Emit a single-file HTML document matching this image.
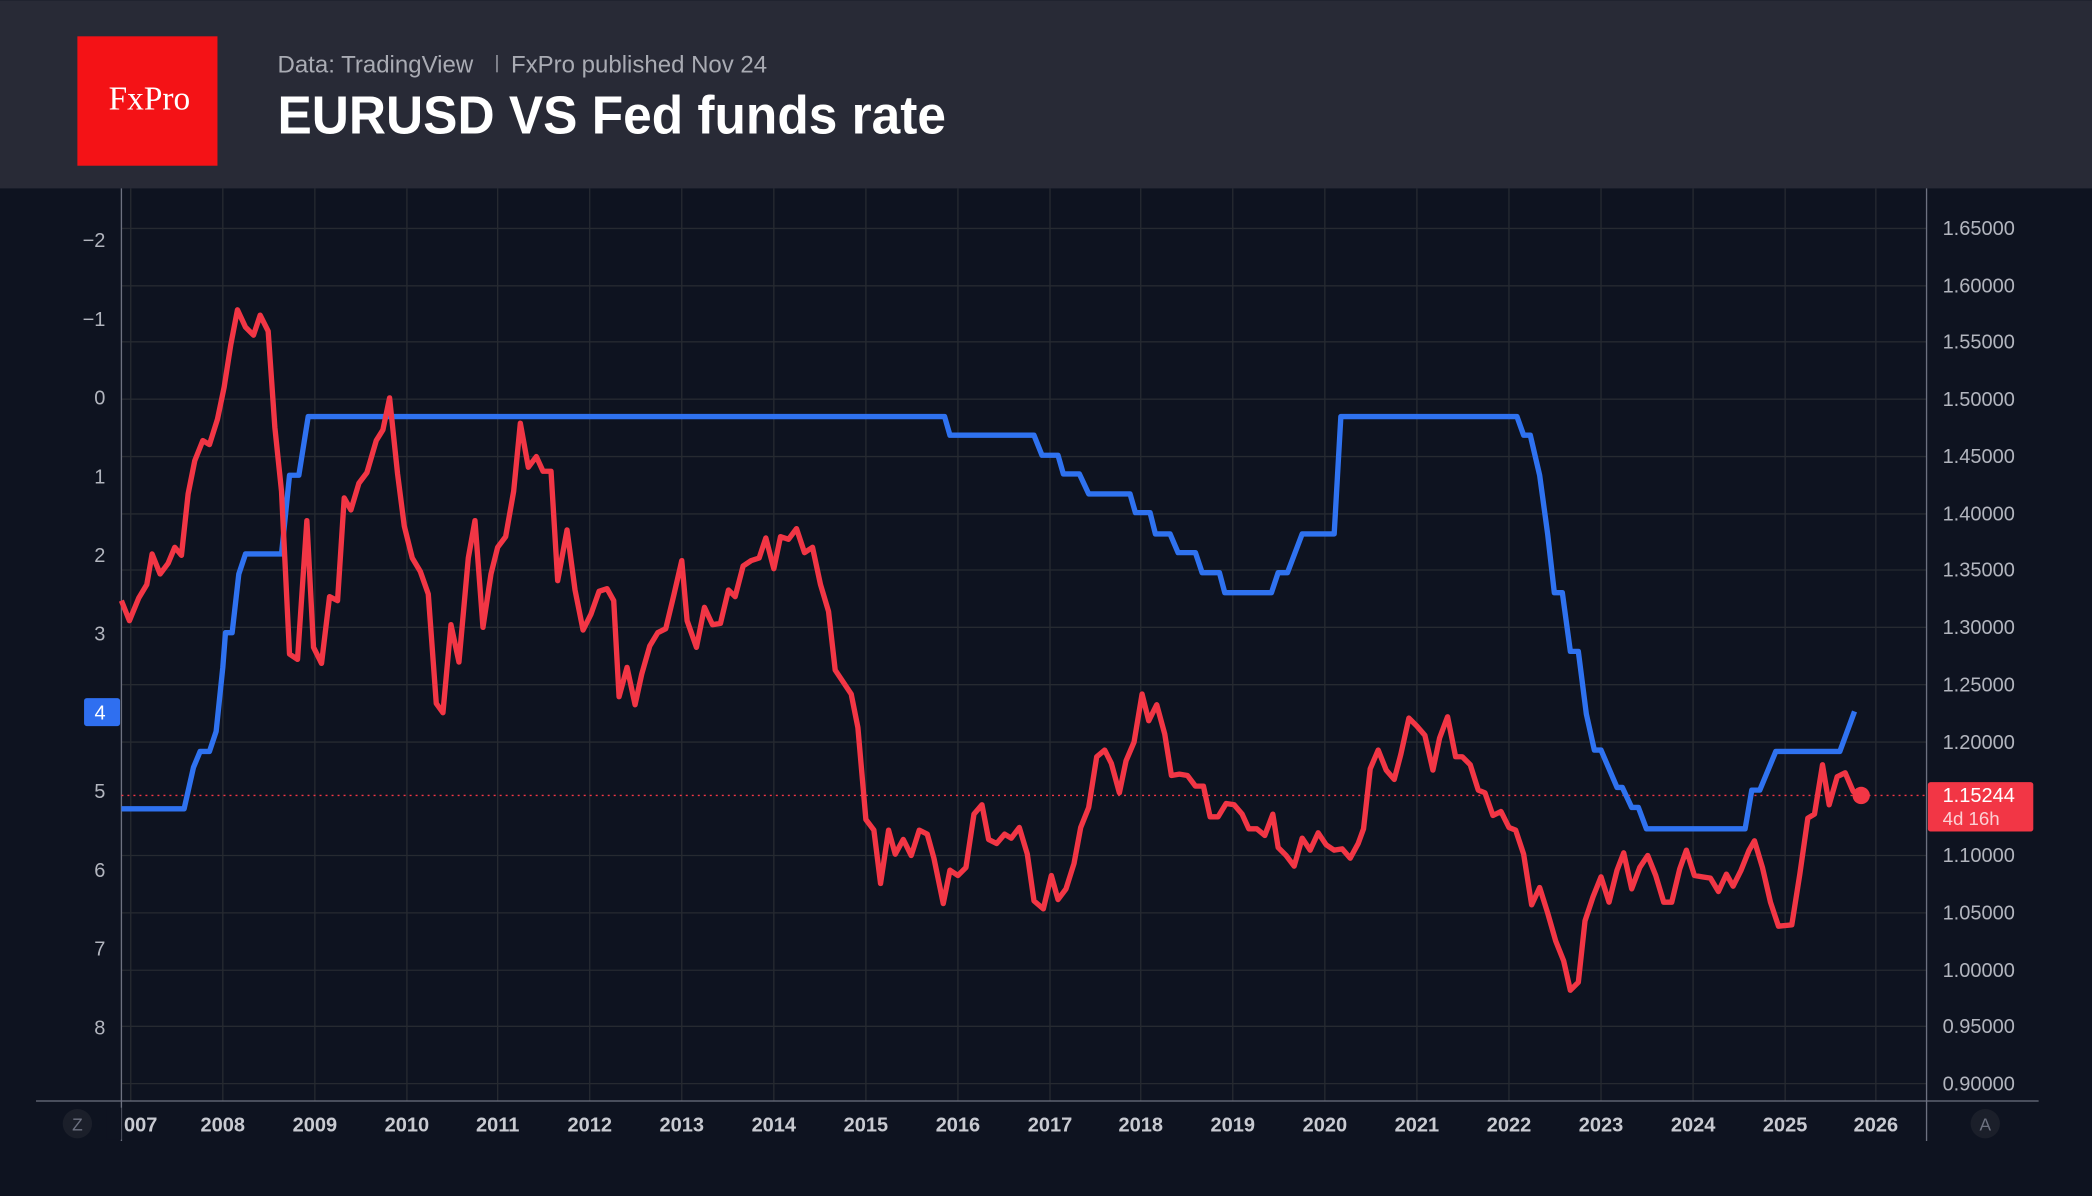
<!DOCTYPE html>
<html><head><meta charset="utf-8"><style>
html,body{margin:0;padding:0;background:#0e1320;}
svg{display:block;}
</style></head><body>
<svg width="2092" height="1196" viewBox="0 0 1568 896" xmlns="http://www.w3.org/2000/svg" font-family="Liberation Sans, sans-serif">
<rect width="1568" height="896" fill="#0e1320"/>
<rect width="1568" height="141" fill="#282a36"/>
<rect x="58" y="27" width="105" height="97" fill="#f41216"/>
<text x="112" y="82" fill="#fff" font-family="Liberation Serif, serif" font-size="25" text-anchor="middle">FxPro</text>
<text x="208" y="54" fill="#a9abb3" font-size="18">Data: TradingView</text>
<rect x="372" y="41" width="1" height="13" fill="#a9abb3"/>
<text x="383" y="54" fill="#a9abb3" font-size="18">FxPro published Nov 24</text>
<text x="208" y="100" fill="#fff" font-size="40" font-weight="bold" textLength="501" lengthAdjust="spacingAndGlyphs">EURUSD VS Fed funds rate</text>
<g stroke="#262a31" stroke-width="1">
<line x1="91" y1="171" x2="1444" y2="171"/><line x1="91" y1="214" x2="1444" y2="214"/><line x1="91" y1="256" x2="1444" y2="256"/><line x1="91" y1="299" x2="1444" y2="299"/><line x1="91" y1="342" x2="1444" y2="342"/><line x1="91" y1="385" x2="1444" y2="385"/><line x1="91" y1="427" x2="1444" y2="427"/><line x1="91" y1="470" x2="1444" y2="470"/><line x1="91" y1="513" x2="1444" y2="513"/><line x1="91" y1="556" x2="1444" y2="556"/><line x1="91" y1="641" x2="1444" y2="641"/><line x1="91" y1="684" x2="1444" y2="684"/><line x1="91" y1="727" x2="1444" y2="727"/><line x1="91" y1="769" x2="1444" y2="769"/><line x1="91" y1="812" x2="1444" y2="812"/>
</g>
<g stroke="#262a31" stroke-width="1">
<line x1="98" y1="141" x2="98" y2="825"/><line x1="167" y1="141" x2="167" y2="825"/><line x1="236" y1="141" x2="236" y2="825"/><line x1="305" y1="141" x2="305" y2="825"/><line x1="373" y1="141" x2="373" y2="825"/><line x1="442" y1="141" x2="442" y2="825"/><line x1="511" y1="141" x2="511" y2="825"/><line x1="580" y1="141" x2="580" y2="825"/><line x1="649" y1="141" x2="649" y2="825"/><line x1="718" y1="141" x2="718" y2="825"/><line x1="787" y1="141" x2="787" y2="825"/><line x1="855" y1="141" x2="855" y2="825"/><line x1="924" y1="141" x2="924" y2="825"/><line x1="993" y1="141" x2="993" y2="825"/><line x1="1062" y1="141" x2="1062" y2="825"/><line x1="1131" y1="141" x2="1131" y2="825"/><line x1="1200" y1="141" x2="1200" y2="825"/><line x1="1269" y1="141" x2="1269" y2="825"/><line x1="1338" y1="141" x2="1338" y2="825"/><line x1="1406" y1="141" x2="1406" y2="825"/>
</g>
<line x1="91" y1="141" x2="91" y2="855" stroke="#6d7180" stroke-width="1"/>
<line x1="1444" y1="141" x2="1444" y2="855" stroke="#6d7180" stroke-width="1"/>
<line x1="27" y1="825" x2="1528" y2="825" stroke="#6d7180" stroke-width="1"/>
<g fill="#b2b5be" font-size="15" text-anchor="end">
<text x="79" y="185">−2</text><text x="79" y="244">−1</text><text x="79" y="303">0</text><text x="79" y="362">1</text><text x="79" y="421">2</text><text x="79" y="480">3</text><text x="79" y="598">5</text><text x="79" y="657">6</text><text x="79" y="716">7</text><text x="79" y="775">8</text>
</g>
<rect x="63" y="523" width="27" height="21" rx="2" fill="#2f6ff0"/>
<text x="75" y="539" fill="#fff" font-size="15" text-anchor="middle">4</text>
<g fill="#b2b5be" font-size="15" text-anchor="start">
<text x="1456" y="176">1.65000</text><text x="1456" y="219">1.60000</text><text x="1456" y="261">1.55000</text><text x="1456" y="304">1.50000</text><text x="1456" y="347">1.45000</text><text x="1456" y="390">1.40000</text><text x="1456" y="432">1.35000</text><text x="1456" y="475">1.30000</text><text x="1456" y="518">1.25000</text><text x="1456" y="561">1.20000</text><text x="1456" y="646">1.10000</text><text x="1456" y="689">1.05000</text><text x="1456" y="732">1.00000</text><text x="1456" y="774">0.95000</text><text x="1456" y="817">0.90000</text>
</g>
<g fill="#c8cad1" font-size="15" font-weight="bold" text-anchor="middle">
<text x="167" y="848">2008</text><text x="236" y="848">2009</text><text x="305" y="848">2010</text><text x="373" y="848">2011</text><text x="442" y="848">2012</text><text x="511" y="848">2013</text><text x="580" y="848">2014</text><text x="649" y="848">2015</text><text x="718" y="848">2016</text><text x="787" y="848">2017</text><text x="855" y="848">2018</text><text x="924" y="848">2019</text><text x="993" y="848">2020</text><text x="1062" y="848">2021</text><text x="1131" y="848">2022</text><text x="1200" y="848">2023</text><text x="1269" y="848">2024</text><text x="1338" y="848">2025</text><text x="1406" y="848">2026</text>
</g>
<text x="118" y="848" fill="#c8cad1" font-size="15" font-weight="bold" text-anchor="end">007</text>
<rect x="80" y="830" width="11" height="24" fill="#0e1320"/>
<circle cx="58" cy="842" r="11" fill="#1b1f2a"/><text x="58" y="847" fill="#6d7180" font-size="13" text-anchor="middle">Z</text>
<circle cx="1488" cy="842" r="11" fill="#1b1f2a"/><text x="1488" y="847" fill="#6d7180" font-size="13" text-anchor="middle">A</text>
<line x1="91" y1="596" x2="1444" y2="596" stroke="#f23645" stroke-width="1" stroke-dasharray="1.5 3"/>
<polyline fill="none" stroke="#2f72f0" stroke-width="4" stroke-linejoin="round" points="91,606 138,606 145,575 150,563 157,563 162,548 167,500 169,474 174,474 179,430 184,415 211,415 217,356 224,356 231,312 708,312 712,326 775,326 781,341 793,341 797,355 809,355 816,370 847,370 851,384 862,384 866,400 877,400 883,414 896,414 901,429 914,429 918,444 953,444 958,429 965,429 976,400 1000,400 1005,312 1137,312 1142,326 1147,326 1154,356 1160,400 1165,444 1171,444 1177,488 1183,488 1189,535 1195,562 1200,562 1212,590 1216,590 1223,605 1228,605 1234,621 1308,621 1313,592 1319,592 1331,563 1379,563 1390,533"/>
<polyline fill="none" stroke="#f23645" stroke-width="4" stroke-linejoin="round" points="91,450 97,465 104,448 110,438 114,415 120,430 126,422 131,410 136,416 141,370 146,345 152,330 157,333 163,314 168,290 173,258 178,232 184,245 190,251 195,236 201,248 206,320 211,368 217,490 223,494 230,390 235,485 241,497 247,447 253,450 258,373 263,382 269,362 275,354 282,330 287,322 292,298 298,355 303,394 309,418 315,428 321,445 327,527 332,534 338,468 344,496 351,418 356,390 362,470 368,430 373,410 379,402 385,368 390,317 396,350 402,342 407,353 413,353 418,435 425,397 431,442 437,472 443,460 449,443 455,441 460,450 464,522 470,500 476,528 481,505 487,484 493,474 499,471 505,446 511,420 515,465 522,485 528,455 534,468 540,467 546,442 551,447 557,424 563,420 569,418 574,403 580,426 585,402 591,404 597,396 603,414 609,410 615,438 621,458 626,502 632,511 638,520 643,545 649,614 655,622 660,662 666,622 671,640 677,629 683,641 689,622 695,625 700,643 707,677 712,652 718,656 724,650 730,610 736,603 741,629 747,632 753,625 758,628 764,620 770,640 775,675 782,681 788,656 793,674 799,666 805,647 810,620 816,605 822,567 828,562 833,572 839,594 844,570 850,556 856,520 861,540 867,528 873,550 878,581 884,580 890,581 896,589 902,589 907,612 913,612 919,602 925,603 931,610 936,621 942,621 948,626 954,610 958,635 964,641 970,649 976,628 982,637 988,624 994,633 1000,637 1006,636 1012,643 1018,632 1022,621 1027,576 1033,562 1039,577 1045,584 1050,565 1056,538 1062,544 1068,551 1074,577 1079,553 1085,537 1091,567 1096,567 1102,573 1108,592 1113,594 1119,611 1125,608 1131,620 1136,622 1142,640 1148,678 1154,665 1160,684 1166,705 1172,720 1177,742 1183,736 1188,690 1194,672 1200,657 1206,676 1212,652 1217,639 1223,666 1229,650 1235,641 1241,656 1247,676 1253,676 1259,651 1264,637 1270,656 1276,657 1282,658 1288,668 1294,655 1299,664 1305,652 1311,637 1315,630 1321,650 1327,676 1333,694 1343,693 1349,655 1355,613 1360,610 1366,573 1371,603 1377,582 1383,579 1389,593 1395,596"/>
<circle cx="1395" cy="596" r="6.5" fill="#f23645"/>
<rect x="1445" y="586" width="79" height="37" rx="2" fill="#f23645"/>
<text x="1456" y="601" fill="#fff" font-size="15">1.15244</text>
<text x="1456" y="618" fill="#fbd0d4" font-size="14">4d 16h</text>
</svg>
</body></html>
